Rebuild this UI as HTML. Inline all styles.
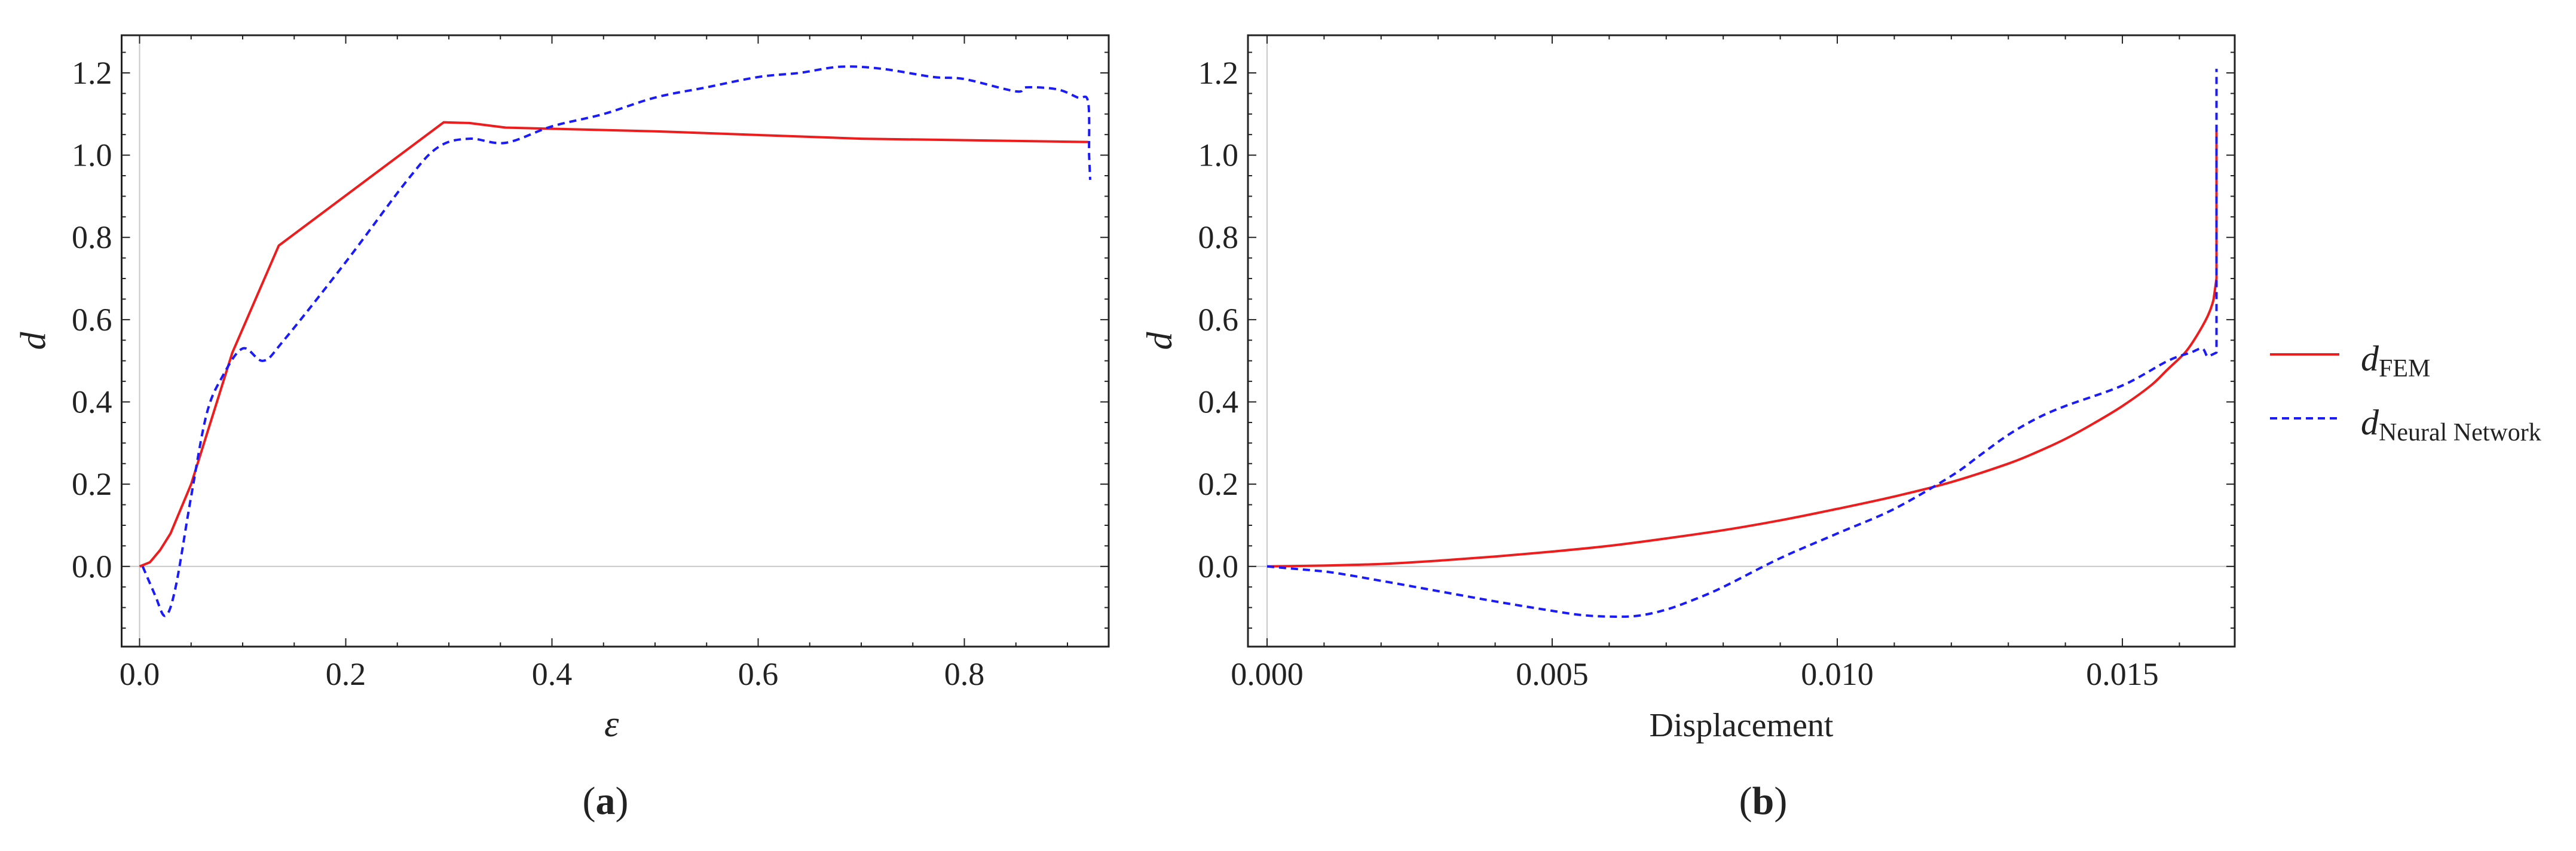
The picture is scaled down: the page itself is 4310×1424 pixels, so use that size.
<!DOCTYPE html>
<html><head><meta charset="utf-8"><style>
html,body{margin:0;padding:0;background:#fff;}
svg text{font-family:"Liberation Serif",serif;fill:#222;}
</style></head><body>
<svg id="fig" width="4310" height="1419" viewBox="0 0 4310 1419" xmlns="http://www.w3.org/2000/svg">
<g id="pa"></g>
<g id="pb"></g>
<g>
 <line x1="3798" y1="593" x2="3914" y2="593" stroke="#ee1c1c" stroke-width="4"/>
 <text x="3950" y="620" font-size="60" font-style="italic">d<tspan font-style="normal" font-size="42" dy="10">FEM</tspan></text>
 <line x1="3798" y1="700" x2="3914" y2="700" stroke="#1a1aff" stroke-width="4" stroke-dasharray="12,8"/>
 <text x="3950" y="727" font-size="60" font-style="italic">d<tspan font-style="normal" font-size="42" dy="10">Neural Network</tspan></text>
</g>
<text x="1013" y="1362" font-size="66" text-anchor="middle">(<tspan font-weight="bold">a</tspan>)</text>
<text x="2950" y="1362" font-size="66" text-anchor="middle">(<tspan font-weight="bold">b</tspan>)</text>
</svg>
<script>
const aFemX=[0,0.01,0.02,0.03,0.05,0.07,0.09,0.135,0.295,0.32,0.355,0.5,0.7,0.92];
const aFemY=[0,0.01,0.04,0.08,0.2,0.36,0.52,0.78,1.08,1.078,1.067,1.058,1.04,1.032];
const aNnX=[0.003,0.015,0.025,0.035,0.05,0.065,0.08,0.1,0.12,0.14,0.2,0.26,0.29,0.32,0.355,0.4,0.45,0.5,0.55,0.6,0.64,0.68,0.72,0.77,0.8,0.85,0.86,0.89,0.91,0.92,0.921,0.922];
const aNnY=[0,-0.07,-0.12,-0.05,0.17,0.37,0.46,0.53,0.5,0.55,0.74,0.94,1.02,1.04,1.03,1.07,1.1,1.14,1.165,1.19,1.2,1.215,1.21,1.19,1.185,1.155,1.165,1.16,1.14,1.13,1.0,0.94];
const bFemX=[0,0.001,0.002,0.003,0.004,0.005,0.006,0.007,0.008,0.009,0.01,0.011,0.012,0.013,0.0135,0.014,0.0145,0.015,0.0155,0.0158,0.0161,0.0163,0.0165,0.0166,0.01665,0.01665];
const bFemY=[0,0.002,0.006,0.014,0.024,0.036,0.05,0.068,0.088,0.112,0.14,0.17,0.205,0.25,0.278,0.31,0.348,0.39,0.44,0.48,0.52,0.56,0.61,0.65,0.7,1.07];
const bNnX=[0,0.001,0.002,0.003,0.004,0.005,0.0055,0.006,0.0065,0.007,0.0075,0.008,0.009,0.01,0.011,0.012,0.0125,0.013,0.0135,0.014,0.015,0.0158,0.0162,0.0164,0.0165,0.01665,0.01665];
const bNnY=[0,-0.012,-0.035,-0.06,-0.085,-0.108,-0.118,-0.122,-0.12,-0.105,-0.08,-0.05,0.02,0.08,0.14,0.22,0.27,0.32,0.36,0.39,0.44,0.5,0.52,0.53,0.51,0.52,1.21];
const yTicks=[0,0.2,0.4,0.6,0.8,1.0,1.2];
const aXTicks=[0,0.2,0.4,0.6,0.8];
const bXTicks=[0,0.005,0.01,0.015];
const NS="http://www.w3.org/2000/svg";
function mk(p,t,a){const e=document.createElementNS(NS,t);for(const k in a)e.setAttribute(k,a[k]);p.appendChild(e);return e;}
function smoothPath(px,py){
 let d='M'+px[0].toFixed(1)+','+py[0].toFixed(1);
 for(let i=0;i<px.length-1;i++){
  const x0=px[Math.max(i-1,0)],y0=py[Math.max(i-1,0)],x1=px[i],y1=py[i],x2=px[i+1],y2=py[i+1],x3=px[Math.min(i+2,px.length-1)],y3=py[Math.min(i+2,px.length-1)];
  if(Math.abs(x2-x1)<1.5||Math.abs(x3-x2)<1.5||Math.abs(x1-x0)<1.5){d+=' L'+x2.toFixed(1)+','+y2.toFixed(1);continue;}
  const c1x=x1+(x2-x0)/6,c1y=y1+(y2-y0)/6,c2x=x2-(x3-x1)/6,c2y=y2-(y3-y1)/6;
  d+=` C${c1x.toFixed(1)},${c1y.toFixed(1)} ${c2x.toFixed(1)},${c2y.toFixed(1)} ${x2.toFixed(1)},${y2.toFixed(1)}`;
 }
 return d;
}
function panel(g,L,R,xmin,xmax,xt,xdec,minorStep,series,xlab,xlabItalic){
 const T=59,B=1082,ymin=-0.195,ymax=1.2915;
 const sx=v=>L+(v-xmin)/(xmax-xmin)*(R-L);
 const sy=v=>B-(v-ymin)/(ymax-ymin)*(B-T);
 const z1=mk(g,'line',{x1:L,x2:R,y1:sy(0),y2:sy(0),stroke:'#c8c8c8','stroke-width':2});
 
 
 const z2=mk(g,'line',{x1:sx(0),x2:sx(0),y1:T,y2:B,stroke:'#c8c8c8','stroke-width':2});
 
 
 for(let v=-0.15;v<=1.29;v+=0.05){const y=sy(v);const maj=Math.abs(v*5-Math.round(v*5))<1e-6;const len=maj?14:7;
  mk(g,'line',{x1:L,x2:L+len,y1:y,y2:y,stroke:'#222','stroke-width':2});
  mk(g,'line',{x1:R,x2:R-len,y1:y,y2:y,stroke:'#222','stroke-width':2});}
 for(let v=Math.ceil(xmin/minorStep)*minorStep;v<=xmax;v+=minorStep){const x=sx(v);
  const maj=xt.some(t=>Math.abs(t-v)<minorStep/10);const len=maj?14:7;
  mk(g,'line',{x1:x,x2:x,y1:B,y2:B-len,stroke:'#222','stroke-width':2});
  mk(g,'line',{x1:x,x2:x,y1:T,y2:T+len,stroke:'#222','stroke-width':2});}
 yTicks.forEach(v=>{const t=mk(g,'text',{x:L-16,y:sy(v)+18,'font-size':54,'text-anchor':'end'});t.textContent=v.toFixed(1);
  
  });
 xt.forEach(v=>{const t=mk(g,'text',{x:sx(v),y:B+64,'font-size':54,'text-anchor':'middle'});t.textContent=v.toFixed(xdec);
  
  });
 series.forEach(s=>{const px=s.x.map(sx),py=s.y.map(sy);
  const d=s.smooth?smoothPath(px,py):px.map((v,i)=>(i?'L':'M')+v.toFixed(1)+','+py[i].toFixed(1)).join(' ');
  const p=mk(g,'path',{d:d,fill:'none',stroke:s.c,'stroke-width':4,'stroke-dasharray':s.dash||'none','stroke-linejoin':'round'});
  
  });
 const f=mk(g,'rect',{x:L,y:T,width:R-L,height:B-T,fill:'none',stroke:'#222','stroke-width':3});
 
 
 const yl=mk(g,'text',{x:0,y:0,'font-size':60,'font-style':'italic','text-anchor':'middle',transform:`translate(${L-128},${(T+B)/2}) rotate(-90)`});yl.textContent='d';
 
 
 const xl=mk(g,'text',{x:(L+R)/2+(xlabItalic?-6:0),y:1232,'font-size':xlabItalic?62:56,'font-style':xlabItalic?'italic':'normal','text-anchor':'middle'});xl.textContent=xlab;
 
 
}
panel(document.getElementById('pa'),203.5,1855,-0.0174,0.940,aXTicks,1,0.05,
 [{x:aFemX,y:aFemY,c:'#ee1c1c',n:'series-a-fem'},{x:aNnX,y:aNnY,c:'#1a1aff',dash:'12,8',n:'series-a-nn',smooth:true}],'ε',true);
panel(document.getElementById('pb'),2088,3739,-0.000335,0.01697,bXTicks,3,0.001,
 [{x:bFemX,y:bFemY,c:'#ee1c1c',n:'series-b-fem',smooth:true},{x:bNnX,y:bNnY,c:'#1a1aff',dash:'12,8',n:'series-b-nn',smooth:true}],'Displacement',false);
</script>
</body></html>
